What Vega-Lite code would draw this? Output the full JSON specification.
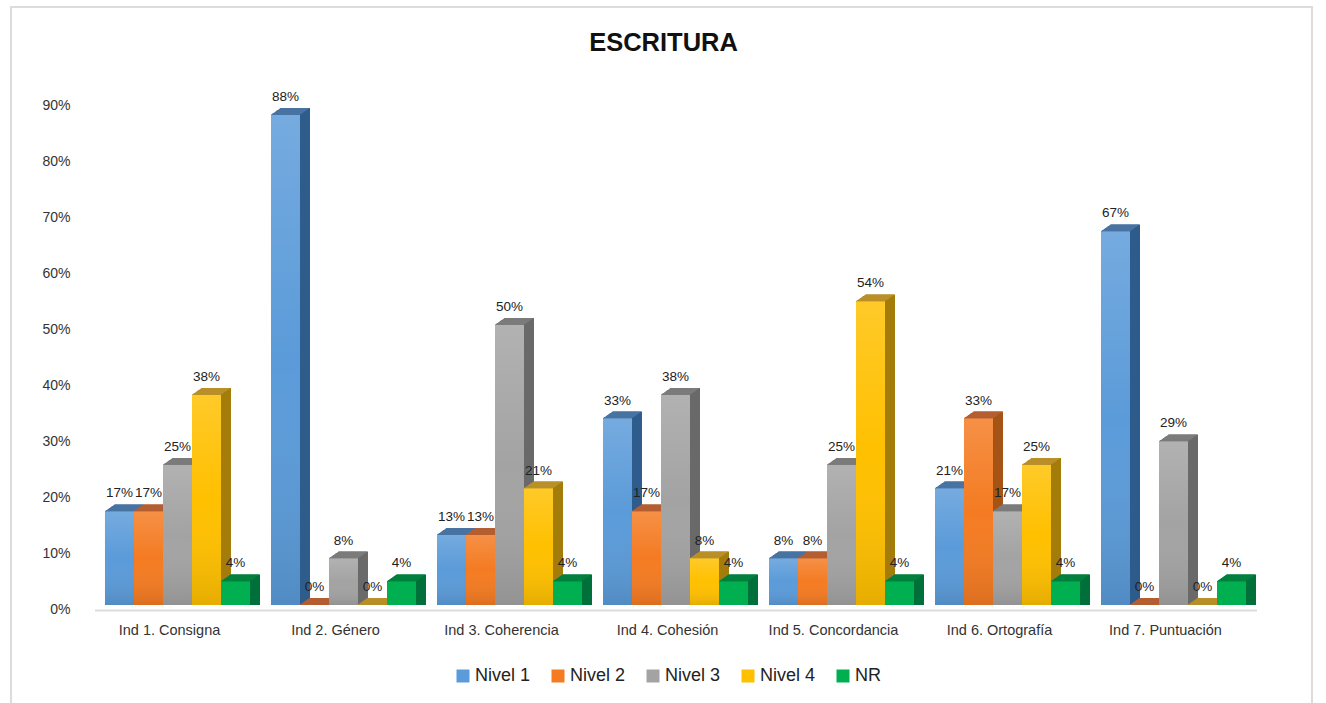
{"$schema":"https://vega.github.io/schema/vega-lite/v6.json","width":1301,"height":700,"autosize":{"type":"none"},"padding":{"left":11,"top":7,"right":14,"bottom":0},"background":"white","view":{"stroke":"#dcdcdc","strokeWidth":2},"title":{"text":"ESCRITURA","fontSize":25.5,"font":"Liberation Sans","fontWeight":"bold","color":"#111111","anchor":"middle","offset":-49,"dx":2},"config":{"font":"Liberation Sans"},"data":{"values":[
{"ind":"Ind 1. Consigna","nivel":"Nivel 1","valor":0.167},{"ind":"Ind 1. Consigna","nivel":"Nivel 2","valor":0.167},{"ind":"Ind 1. Consigna","nivel":"Nivel 3","valor":0.25},{"ind":"Ind 1. Consigna","nivel":"Nivel 4","valor":0.375},{"ind":"Ind 1. Consigna","nivel":"NR","valor":0.042},
{"ind":"Ind 2. Género","nivel":"Nivel 1","valor":0.875},{"ind":"Ind 2. Género","nivel":"Nivel 2","valor":0},{"ind":"Ind 2. Género","nivel":"Nivel 3","valor":0.083},{"ind":"Ind 2. Género","nivel":"Nivel 4","valor":0},{"ind":"Ind 2. Género","nivel":"NR","valor":0.042},
{"ind":"Ind 3. Coherencia","nivel":"Nivel 1","valor":0.125},{"ind":"Ind 3. Coherencia","nivel":"Nivel 2","valor":0.125},{"ind":"Ind 3. Coherencia","nivel":"Nivel 3","valor":0.5},{"ind":"Ind 3. Coherencia","nivel":"Nivel 4","valor":0.208},{"ind":"Ind 3. Coherencia","nivel":"NR","valor":0.042},
{"ind":"Ind 4. Cohesión","nivel":"Nivel 1","valor":0.333},{"ind":"Ind 4. Cohesión","nivel":"Nivel 2","valor":0.167},{"ind":"Ind 4. Cohesión","nivel":"Nivel 3","valor":0.375},{"ind":"Ind 4. Cohesión","nivel":"Nivel 4","valor":0.083},{"ind":"Ind 4. Cohesión","nivel":"NR","valor":0.042},
{"ind":"Ind 5. Concordancia","nivel":"Nivel 1","valor":0.083},{"ind":"Ind 5. Concordancia","nivel":"Nivel 2","valor":0.083},{"ind":"Ind 5. Concordancia","nivel":"Nivel 3","valor":0.25},{"ind":"Ind 5. Concordancia","nivel":"Nivel 4","valor":0.542},{"ind":"Ind 5. Concordancia","nivel":"NR","valor":0.042},
{"ind":"Ind 6. Ortografía","nivel":"Nivel 1","valor":0.208},{"ind":"Ind 6. Ortografía","nivel":"Nivel 2","valor":0.333},{"ind":"Ind 6. Ortografía","nivel":"Nivel 3","valor":0.167},{"ind":"Ind 6. Ortografía","nivel":"Nivel 4","valor":0.25},{"ind":"Ind 6. Ortografía","nivel":"NR","valor":0.042},
{"ind":"Ind 7. Puntuación","nivel":"Nivel 1","valor":0.667},{"ind":"Ind 7. Puntuación","nivel":"Nivel 2","valor":0},{"ind":"Ind 7. Puntuación","nivel":"Nivel 3","valor":0.292},{"ind":"Ind 7. Puntuación","nivel":"Nivel 4","valor":0},{"ind":"Ind 7. Puntuación","nivel":"NR","valor":0.042}
]},
"encoding":{
"x":{"field":"ind","type":"nominal","sort":null,"title":null,"scale":{"range":[83.5,1245.5],"paddingInner":0.1265,"paddingOuter":0.0632},"axis":{"orient":"bottom","offset":-97,"labelAngle":0,"labelFont":"Liberation Sans","labelFontSize":14.5,"labelColor":"#333333","labelPadding":13,"labelOffset":-8,"ticks":false,"domain":true,"domainColor":"#dcdcdc","domainWidth":2,"grid":false}},
"xOffset":{"field":"nivel","type":"nominal","sort":null,"scale":{"domain":["Nivel 1","Nivel 2","Nivel 3","Nivel 4","NR"],"paddingInner":0,"paddingOuter":0}},
"y":{"field":"valor","type":"quantitative","stack":null,"title":null,"scale":{"domain":[0,0.9],"range":[598,94],"nice":false,"zero":true},"axis":{"orient":"left","offset":-59,"values":[0,0.1,0.2,0.3,0.4,0.5,0.6,0.7,0.8,0.9],"format":".0%","labelFont":"Liberation Sans","labelFontSize":14,"labelColor":"#333333","labelPadding":0,"labelOffset":4,"ticks":false,"domain":false,"grid":false}}
},
"resolve":{"scale":{"fill":"independent","xOffset":"independent"}},
"layer":[
{"mark":{"type":"bar","yOffset":-7,"y2Offset":1},"encoding":{"xOffset":{"field":"nivel","type":"nominal","sort":null,"scale":{"domain":["Nivel 1","Nivel 2","Nivel 3","Nivel 4","NR"],"range":[10,155],"paddingInner":0,"paddingOuter":0}},"fill":{"field":"nivel","type":"nominal","legend":null,"scale":{"domain":["Nivel 1","Nivel 2","Nivel 3","Nivel 4","NR"],"range":["#2f5d8c","#a65316","#6a6a6a","#a37c0a","#00703a"]}}}},
{"mark":{"type":"bar","yOffset":-7,"y2Offset":1},"encoding":{"xOffset":{"field":"nivel","type":"nominal","sort":null,"scale":{"domain":["Nivel 1","Nivel 2","Nivel 3","Nivel 4","NR"],"range":[9,154],"paddingInner":0,"paddingOuter":0}},"fill":{"field":"nivel","type":"nominal","legend":null,"scale":{"domain":["Nivel 1","Nivel 2","Nivel 3","Nivel 4","NR"],"range":["#4f7aa8","#b8623a","#808080","#bf9530","#00863f"]}}}},
{"mark":{"type":"bar","yOffset":-6.3,"y2Offset":1},"encoding":{"xOffset":{"field":"nivel","type":"nominal","sort":null,"scale":{"domain":["Nivel 1","Nivel 2","Nivel 3","Nivel 4","NR"],"range":[9,154],"paddingInner":0,"paddingOuter":0}},"fill":{"field":"nivel","type":"nominal","legend":null,"scale":{"domain":["Nivel 1","Nivel 2","Nivel 3","Nivel 4","NR"],"range":["#2f5d8c","#a65316","#6a6a6a","#a37c0a","#00703a"]}}}},
{"mark":{"type":"bar","yOffset":-6.3,"y2Offset":1},"encoding":{"xOffset":{"field":"nivel","type":"nominal","sort":null,"scale":{"domain":["Nivel 1","Nivel 2","Nivel 3","Nivel 4","NR"],"range":[8,153],"paddingInner":0,"paddingOuter":0}},"fill":{"field":"nivel","type":"nominal","legend":null,"scale":{"domain":["Nivel 1","Nivel 2","Nivel 3","Nivel 4","NR"],"range":["#4f7aa8","#b8623a","#808080","#bf9530","#00863f"]}}}},
{"mark":{"type":"bar","yOffset":-5.6,"y2Offset":1},"encoding":{"xOffset":{"field":"nivel","type":"nominal","sort":null,"scale":{"domain":["Nivel 1","Nivel 2","Nivel 3","Nivel 4","NR"],"range":[8,153],"paddingInner":0,"paddingOuter":0}},"fill":{"field":"nivel","type":"nominal","legend":null,"scale":{"domain":["Nivel 1","Nivel 2","Nivel 3","Nivel 4","NR"],"range":["#2f5d8c","#a65316","#6a6a6a","#a37c0a","#00703a"]}}}},
{"mark":{"type":"bar","yOffset":-5.6,"y2Offset":1},"encoding":{"xOffset":{"field":"nivel","type":"nominal","sort":null,"scale":{"domain":["Nivel 1","Nivel 2","Nivel 3","Nivel 4","NR"],"range":[7,152],"paddingInner":0,"paddingOuter":0}},"fill":{"field":"nivel","type":"nominal","legend":null,"scale":{"domain":["Nivel 1","Nivel 2","Nivel 3","Nivel 4","NR"],"range":["#4f7aa8","#b8623a","#808080","#bf9530","#00863f"]}}}},
{"mark":{"type":"bar","yOffset":-4.9,"y2Offset":1},"encoding":{"xOffset":{"field":"nivel","type":"nominal","sort":null,"scale":{"domain":["Nivel 1","Nivel 2","Nivel 3","Nivel 4","NR"],"range":[7,152],"paddingInner":0,"paddingOuter":0}},"fill":{"field":"nivel","type":"nominal","legend":null,"scale":{"domain":["Nivel 1","Nivel 2","Nivel 3","Nivel 4","NR"],"range":["#2f5d8c","#a65316","#6a6a6a","#a37c0a","#00703a"]}}}},
{"mark":{"type":"bar","yOffset":-4.9,"y2Offset":1},"encoding":{"xOffset":{"field":"nivel","type":"nominal","sort":null,"scale":{"domain":["Nivel 1","Nivel 2","Nivel 3","Nivel 4","NR"],"range":[6,151],"paddingInner":0,"paddingOuter":0}},"fill":{"field":"nivel","type":"nominal","legend":null,"scale":{"domain":["Nivel 1","Nivel 2","Nivel 3","Nivel 4","NR"],"range":["#4f7aa8","#b8623a","#808080","#bf9530","#00863f"]}}}},
{"mark":{"type":"bar","yOffset":-4.2,"y2Offset":1},"encoding":{"xOffset":{"field":"nivel","type":"nominal","sort":null,"scale":{"domain":["Nivel 1","Nivel 2","Nivel 3","Nivel 4","NR"],"range":[6,151],"paddingInner":0,"paddingOuter":0}},"fill":{"field":"nivel","type":"nominal","legend":null,"scale":{"domain":["Nivel 1","Nivel 2","Nivel 3","Nivel 4","NR"],"range":["#2f5d8c","#a65316","#6a6a6a","#a37c0a","#00703a"]}}}},
{"mark":{"type":"bar","yOffset":-4.2,"y2Offset":1},"encoding":{"xOffset":{"field":"nivel","type":"nominal","sort":null,"scale":{"domain":["Nivel 1","Nivel 2","Nivel 3","Nivel 4","NR"],"range":[5,150],"paddingInner":0,"paddingOuter":0}},"fill":{"field":"nivel","type":"nominal","legend":null,"scale":{"domain":["Nivel 1","Nivel 2","Nivel 3","Nivel 4","NR"],"range":["#4f7aa8","#b8623a","#808080","#bf9530","#00863f"]}}}},
{"mark":{"type":"bar","yOffset":-3.5,"y2Offset":1},"encoding":{"xOffset":{"field":"nivel","type":"nominal","sort":null,"scale":{"domain":["Nivel 1","Nivel 2","Nivel 3","Nivel 4","NR"],"range":[5,150],"paddingInner":0,"paddingOuter":0}},"fill":{"field":"nivel","type":"nominal","legend":null,"scale":{"domain":["Nivel 1","Nivel 2","Nivel 3","Nivel 4","NR"],"range":["#2f5d8c","#a65316","#6a6a6a","#a37c0a","#00703a"]}}}},
{"mark":{"type":"bar","yOffset":-3.5,"y2Offset":1},"encoding":{"xOffset":{"field":"nivel","type":"nominal","sort":null,"scale":{"domain":["Nivel 1","Nivel 2","Nivel 3","Nivel 4","NR"],"range":[4,149],"paddingInner":0,"paddingOuter":0}},"fill":{"field":"nivel","type":"nominal","legend":null,"scale":{"domain":["Nivel 1","Nivel 2","Nivel 3","Nivel 4","NR"],"range":["#4f7aa8","#b8623a","#808080","#bf9530","#00863f"]}}}},
{"mark":{"type":"bar","yOffset":-2.8,"y2Offset":1},"encoding":{"xOffset":{"field":"nivel","type":"nominal","sort":null,"scale":{"domain":["Nivel 1","Nivel 2","Nivel 3","Nivel 4","NR"],"range":[4,149],"paddingInner":0,"paddingOuter":0}},"fill":{"field":"nivel","type":"nominal","legend":null,"scale":{"domain":["Nivel 1","Nivel 2","Nivel 3","Nivel 4","NR"],"range":["#2f5d8c","#a65316","#6a6a6a","#a37c0a","#00703a"]}}}},
{"mark":{"type":"bar","yOffset":-2.8,"y2Offset":1},"encoding":{"xOffset":{"field":"nivel","type":"nominal","sort":null,"scale":{"domain":["Nivel 1","Nivel 2","Nivel 3","Nivel 4","NR"],"range":[3,148],"paddingInner":0,"paddingOuter":0}},"fill":{"field":"nivel","type":"nominal","legend":null,"scale":{"domain":["Nivel 1","Nivel 2","Nivel 3","Nivel 4","NR"],"range":["#4f7aa8","#b8623a","#808080","#bf9530","#00863f"]}}}},
{"mark":{"type":"bar","yOffset":-2.1,"y2Offset":1},"encoding":{"xOffset":{"field":"nivel","type":"nominal","sort":null,"scale":{"domain":["Nivel 1","Nivel 2","Nivel 3","Nivel 4","NR"],"range":[3,148],"paddingInner":0,"paddingOuter":0}},"fill":{"field":"nivel","type":"nominal","legend":null,"scale":{"domain":["Nivel 1","Nivel 2","Nivel 3","Nivel 4","NR"],"range":["#2f5d8c","#a65316","#6a6a6a","#a37c0a","#00703a"]}}}},
{"mark":{"type":"bar","yOffset":-2.1,"y2Offset":1},"encoding":{"xOffset":{"field":"nivel","type":"nominal","sort":null,"scale":{"domain":["Nivel 1","Nivel 2","Nivel 3","Nivel 4","NR"],"range":[2,147],"paddingInner":0,"paddingOuter":0}},"fill":{"field":"nivel","type":"nominal","legend":null,"scale":{"domain":["Nivel 1","Nivel 2","Nivel 3","Nivel 4","NR"],"range":["#4f7aa8","#b8623a","#808080","#bf9530","#00863f"]}}}},
{"mark":{"type":"bar","yOffset":-1.4,"y2Offset":1},"encoding":{"xOffset":{"field":"nivel","type":"nominal","sort":null,"scale":{"domain":["Nivel 1","Nivel 2","Nivel 3","Nivel 4","NR"],"range":[2,147],"paddingInner":0,"paddingOuter":0}},"fill":{"field":"nivel","type":"nominal","legend":null,"scale":{"domain":["Nivel 1","Nivel 2","Nivel 3","Nivel 4","NR"],"range":["#2f5d8c","#a65316","#6a6a6a","#a37c0a","#00703a"]}}}},
{"mark":{"type":"bar","yOffset":-1.4,"y2Offset":1},"encoding":{"xOffset":{"field":"nivel","type":"nominal","sort":null,"scale":{"domain":["Nivel 1","Nivel 2","Nivel 3","Nivel 4","NR"],"range":[1,146],"paddingInner":0,"paddingOuter":0}},"fill":{"field":"nivel","type":"nominal","legend":null,"scale":{"domain":["Nivel 1","Nivel 2","Nivel 3","Nivel 4","NR"],"range":["#4f7aa8","#b8623a","#808080","#bf9530","#00863f"]}}}},
{"mark":{"type":"bar","yOffset":-0.7,"y2Offset":1},"encoding":{"xOffset":{"field":"nivel","type":"nominal","sort":null,"scale":{"domain":["Nivel 1","Nivel 2","Nivel 3","Nivel 4","NR"],"range":[1,146],"paddingInner":0,"paddingOuter":0}},"fill":{"field":"nivel","type":"nominal","legend":null,"scale":{"domain":["Nivel 1","Nivel 2","Nivel 3","Nivel 4","NR"],"range":["#2f5d8c","#a65316","#6a6a6a","#a37c0a","#00703a"]}}}},
{"mark":{"type":"bar","yOffset":-0.7,"y2Offset":1},"encoding":{"fill":{"field":"nivel","type":"nominal","legend":null,"scale":{"domain":["Nivel 1","Nivel 2","Nivel 3","Nivel 4","NR"],"range":["#4f7aa8","#b8623a","#808080","#bf9530","#00863f"]}}}},
{"mark":{"type":"bar"},"encoding":{"color":{"field":"nivel","type":"nominal","scale":{"domain":["Nivel 1","Nivel 2","Nivel 3","Nivel 4","NR"],"range":["#5b9bd9","#f47b22","#a3a3a3","#ffc000","#00b050"]},"legend":{"title":null,"orient":"none","direction":"horizontal","columns":5,"legendX":443,"legendY":660,"padding":0,"symbolType":"square","symbolSize":169,"symbolStrokeWidth":0,"labelFont":"Liberation Sans","labelFontSize":18,"labelColor":"#222222","labelOffset":3,"columnPadding":18}}}},
{"transform":[{"filter":"datum.valor > 0 && datum.nivel != 'NR'"}],"mark":{"type":"bar","fill":{"gradient":"linear","x1":0,"y1":0,"x2":0,"y2":1,"stops":[{"offset":0,"color":"rgba(255,255,255,0.16)"},{"offset":0.5,"color":"rgba(255,255,255,0)"},{"offset":1,"color":"rgba(0,0,0,0.1)"}]}}},
{"mark":{"type":"text","baseline":"bottom","dy":-11,"font":"Liberation Sans","fontSize":13.5,"color":"#222222"},"encoding":{"xOffset":{"field":"nivel","type":"nominal","sort":null,"scale":{"type":"point","padding":0,"domain":["Nivel 1","Nivel 2","Nivel 3","Nivel 4","NR"],"range":[14.5,130.5]}},"text":{"field":"valor","type":"quantitative","format":".0%"}}}
]}
